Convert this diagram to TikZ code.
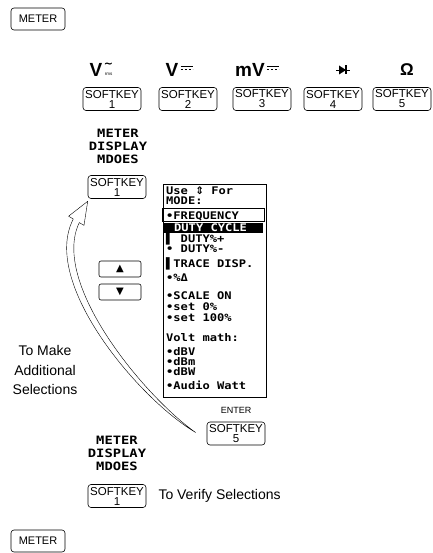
\documentclass[tikz,border=0pt]{standalone}
\usepackage{fontspec}
\setmainfont{Liberation Sans}
\newfontfamily\lcdfont[FakeStretch=1.15]{DejaVu Sans Mono}
\newfontfamily\modefont[FakeStretch=1.2]{DejaVu Sans Mono}
\newfontfamily\glyphfont{DejaVu Sans}
\usetikzlibrary{positioning,calc}

\tikzset{
  hardkey/.style={draw,semithick,rounded corners=3pt,minimum width=54pt,minimum height=22pt,inner sep=0pt,font=\fontsize{11}{11}\selectfont},
  softkey/.style={draw,semithick,rounded corners=3pt,minimum width=58pt,minimum height=23pt,inner sep=0pt,align=center,font=\fontsize{11.5}{10}\selectfont},
  arrowkey/.style={draw,semithick,rounded corners=2pt,minimum width=42pt,minimum height=16pt,inner sep=0pt,font=\glyphfont\fontsize{10}{10}\selectfont},
  modes/.style={align=center,inner sep=0pt,font=\modefont\bfseries\fontsize{11.5}{13}\selectfont},
  lcdrow/.style={anchor=west,inner sep=0pt,font=\lcdfont\bfseries\fontsize{10.5}{10.5}\selectfont},
  note/.style={align=center,inner sep=0pt,font=\fontsize{14}{19.5}\selectfont},
  bigsym/.style={inner sep=0pt,font=\bfseries\fontsize{19}{19}\selectfont}
}

\begin{document}
\begin{tikzpicture}[x=1pt,y=-1pt]
  \useasboundingbox (0,0) rectangle (432,553);

  % top row
  \node[hardkey] (meterTop) at (38,19) {METER};

  \node[bigsym] (symVac) at (96,70) {V};
  \node[inner sep=0pt,font=\glyphfont\bfseries\fontsize{11}{11}\selectfont] (tildeVac) at ($(symVac.east)+(6,-5)$) {∼};
  \node[inner sep=0pt,font=\fontsize{4.5}{4.5}\selectfont] (rmsVac) at ($(symVac.east)+(6,4.5)$) {rms};

  \node[bigsym] (symVdc) at (172,70) {V};
  \draw[thick] ($(symVdc.east)+(2,-4)$) -- ++(12,0);
  \draw[thick,dash pattern=on 2pt off 2pt] ($(symVdc.east)+(2,-1)$) -- ++(12,0);

  \node[bigsym] (symMvdc) at (250,70) {mV};
  \draw[thick] ($(symMvdc.east)+(2,-4)$) -- ++(12,0);
  \draw[thick,dash pattern=on 2pt off 2pt] ($(symMvdc.east)+(2,-1)$) -- ++(12,0);

  \coordinate (symDiode) at (343,70);
  \draw[thick] ($(symDiode)+(-7,0)$) -- ($(symDiode)+(7,0)$);
  \fill ($(symDiode)+(-4,-4.5)$) -- ($(symDiode)+(-4,4.5)$) -- ($(symDiode)+(3,0)$) -- cycle;
  \draw[very thick] ($(symDiode)+(3,-4.5)$) -- ($(symDiode)+(3,4.5)$);

  \node[bigsym,font=\bfseries\fontsize{17}{17}\selectfont] (symOhm) at (407,70) {Ω};

  \node[softkey] (keyA) at (112,99) {SOFTKEY\\1};
  \node[softkey] (keyB) at (188,99) {SOFTKEY\\2};
  \node[softkey] (keyC) at (262,99) {SOFTKEY\\3};
  \node[softkey] (keyD) at (333,99) {SOFTKEY\\4};
  \node[softkey] (keyE) at (402,99) {SOFTKEY\\5};

  % mode select
  \node[modes] (modesTop) at (118,146) {METER\\DISPLAY\\MDOES};
  \node[softkey] (keyMode) at (117,187) {SOFTKEY\\1};

  \node[arrowkey] (btnUp) at (120,269) {▲};
  \node[arrowkey] (btnDown) at (120,292) {▼};

  % display
  \node[draw,thick,minimum width=103pt,minimum height=213pt,inner sep=0pt] (lcdBox) at (214.5,290.5) {};
  \draw[semithick] ($(lcdBox.north west)+(0,25)$) rectangle ($(lcdBox.north east)+(-2,38)$);
  \fill ($(lcdBox.north west)+(0,39)$) rectangle ($(lcdBox.north east)+(-3,49)$);
  \node[lcdrow,text=white] at (174,228) {DUTY CYCLE};
  \foreach \yy/\txt in {191/{Use {\glyphfont⇕} For},201/MODE:,216/•FREQUENCY,
      239/{▌ DUTY\%+},249/{• DUTY\%-},264/{▌TRACE DISP.},278/•\%Δ,
      296/{•SCALE ON},307/{•set 0\%},318/{•set 100\%},338/{ Volt math:},
      352/•dBV,362/•dBm,372/•dBW,385/{•Audio Watt}}
    \node[lcdrow] at (166,\yy) {\txt};

  \node[note] (noteMake) at (45,370) {To Make\\Additional\\Selections};

  \node[inner sep=0pt,font=\fontsize{9}{9}\selectfont] (enterLbl) at (236,410) {ENTER};
  \node[softkey] (keyEnter) at (236,433.5) {SOFTKEY\\5};

  % curved arrow back to the mode key
  \coordinate (arcTail) at ($(keyEnter.west)+(-11,-1)$);
  \coordinate (arcTip) at ($(keyMode.south west)+(0,2.5)$);
  \draw[fill=white,line join=round] (arcTail) .. controls (140,400) and (40,283) .. (73.3,219)
    -- (68.6,216.2) -- (arcTip) -- (84,225.4) -- (79.3,222.6)
    .. controls (50,283) and (145,397) .. (arcTail) -- cycle;

  % verify
  \node[modes] (modesBot) at (117,453) {METER\\DISPLAY\\MDOES};
  \node[softkey] (keyModeBot) at (117,496) {SOFTKEY\\1};
  \node[note,anchor=west] (noteVerify) [right=12pt of keyModeBot] {To Verify Selections};

  \node[hardkey] (meterBot) at (38,541) {METER};
\end{tikzpicture}
\end{document}
